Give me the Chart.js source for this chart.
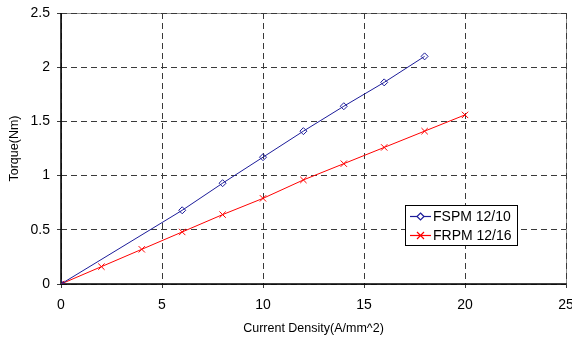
<!DOCTYPE html>
<html>
<head>
<meta charset="utf-8">
<script src="https://cdn.jsdelivr.net/npm/chart.js@4/dist/chart.umd.min.js"></script>
<style>
    html, body { margin: 0; padding: 0; background: #fff; }
    #wrap { width: 572px; height: 338px; }
</style>
</head>
<body>
<div id="wrap"><canvas id="torque-chart" width="572" height="338"></canvas></div>
<script>
// data
const fspmCurrent = [0, 6, 8, 10, 12, 14, 16, 18];
const fspmTorque = [0, 0.68, 0.93, 1.17, 1.41, 1.64, 1.86, 2.1];
const frpmCurrent = [0, 2, 4, 6, 8, 10, 12, 14, 16, 18, 20];
const frpmTorque = [0, 0.16, 0.32, 0.48, 0.64, 0.79, 0.96, 1.11, 1.26, 1.41, 1.56];
const seriesLabels = ['FSPM 12/10', 'FRPM 12/16'];
const seriesColors = ['#1c1c9a', '#ff0000'];

const FONT = '"Liberation Sans", Arial, sans-serif';

function toPoints(xs, ys) {
    return xs.map((x, i) => ({ x: x, y: ys[i] }));
}

// solid frame under the dashed grid, solid black axes over it
const framePlugin = {
    id: 'frame',
    beforeDraw(chart) {
        const a = chart.chartArea;
        const ctx = chart.ctx;
        ctx.save();
        ctx.strokeStyle = '#8a8a8a';
        ctx.lineWidth = 1;
        ctx.strokeRect(a.left + 0.5, a.top + 0.5, a.right - a.left, a.bottom - a.top);
        ctx.restore();
    },
    beforeDatasetsDraw(chart) {
        const a = chart.chartArea;
        const ctx = chart.ctx;
        ctx.save();
        ctx.strokeStyle = '#000';
        ctx.lineWidth = 1.5;
        ctx.beginPath();
        ctx.moveTo(a.left, a.top);
        ctx.lineTo(a.left, a.bottom);
        ctx.lineTo(a.right, a.bottom);
        ctx.stroke();
        ctx.restore();
    }
};

// boxed legend inside the plot
const boxLegend = {
    id: 'boxLegend',
    afterDraw(chart) {
        const ctx = chart.ctx;
        const x = 405, y = 205, w = 112, h = 40;
        ctx.save();
        ctx.fillStyle = '#fff';
        ctx.fillRect(x, y, w, h);
        ctx.strokeStyle = '#000';
        ctx.lineWidth = 1;
        ctx.strokeRect(x + 0.5, y + 0.5, w, h);
        chart.data.datasets.forEach((ds, i) => {
            const cy = y + 11.5 + i * 19;
            const mx = 420.5;
            ctx.strokeStyle = seriesColors[i];
            ctx.lineWidth = 1.2;
            ctx.beginPath();
            ctx.moveTo(410, cy);
            ctx.lineTo(431, cy);
            ctx.stroke();
            ctx.beginPath();
            if (ds.pointStyle === 'rectRot') {
                const r = 3.5;
                ctx.moveTo(mx, cy - r);
                ctx.lineTo(mx + r, cy);
                ctx.lineTo(mx, cy + r);
                ctx.lineTo(mx - r, cy);
                ctx.closePath();
                ctx.fillStyle = '#fff';
                ctx.fill();
            } else {
                const r = 3.5;
                ctx.moveTo(mx - r, cy - r);
                ctx.lineTo(mx + r, cy + r);
                ctx.moveTo(mx + r, cy - r);
                ctx.lineTo(mx - r, cy + r);
            }
            ctx.stroke();
            ctx.fillStyle = '#000';
            ctx.font = '14px ' + FONT;
            ctx.textAlign = 'left';
            ctx.textBaseline = 'middle';
            ctx.fillText(ds.label, 433, cy + 0.5);
        });
        ctx.restore();
    }
};

const ctx = document.getElementById('torque-chart').getContext('2d');
new Chart(ctx, {
    type: 'line',
    data: {
        datasets: [
            {
                label: seriesLabels[0],
                data: toPoints(fspmCurrent, fspmTorque),
                borderColor: seriesColors[0],
                backgroundColor: '#fff',
                borderWidth: 1,
                pointStyle: 'rectRot',
                pointRadius: 3.5,
                pointBorderWidth: 1,
                pointBackgroundColor: 'rgba(0,0,0,0)'
            },
            {
                label: seriesLabels[1],
                data: toPoints(frpmCurrent, frpmTorque),
                borderColor: seriesColors[1],
                backgroundColor: '#fff',
                borderWidth: 1,
                pointStyle: 'crossRot',
                pointRadius: 4.5,
                pointBorderWidth: 1
            }
        ]
    },
    options: {
        responsive: false,
        animation: false,
        layout: { padding: { top: 13, right: 6, left: 0, bottom: 0 } },
        plugins: {
            legend: { display: false },
            tooltip: { enabled: false }
        },
        scales: {
            x: {
                type: 'linear',
                min: 0,
                max: 25,
                ticks: {
                    stepSize: 5,
                    color: '#000',
                    padding: 9,
                    maxRotation: 0,
                    font: { family: FONT, size: 14 }
                },
                grid: {
                    color: '#3a3a3a',
                    tickColor: '#3a3a3a',
                    tickLength: 4,
                    lineWidth: 1
                },
                border: { display: false, dash: [6, 4] },
                title: {
                    display: true,
                    text: 'Current Density(A/mm^2)',
                    color: '#000',
                    font: { family: FONT, size: 12.5 },
                    padding: { top: 0, bottom: 2 }
                },
                afterFit(scale) {
                    scale.height = 54;
                    scale.paddingLeft = 0;
                    scale.paddingRight = 0;
                }
            },
            y: {
                min: 0,
                max: 2.5,
                ticks: {
                    stepSize: 0.5,
                    color: '#000',
                    padding: 7,
                    font: { family: FONT, size: 14 },
                    callback: v => String(v)
                },
                grid: {
                    color: '#3a3a3a',
                    tickColor: '#3a3a3a',
                    tickLength: 4,
                    lineWidth: 1
                },
                border: { display: false, dash: [6, 4] },
                title: {
                    display: true,
                    text: 'Torque(Nm)',
                    color: '#000',
                    font: { family: FONT, size: 12.5 },
                    padding: { top: 7, bottom: 0 }
                },
                afterFit(scale) {
                    scale.width = 61;
                    scale.paddingTop = 0;
                    scale.paddingBottom = 0;
                }
            }
        }
    },
    plugins: [framePlugin, boxLegend]
});
</script>
</body>
</html>
